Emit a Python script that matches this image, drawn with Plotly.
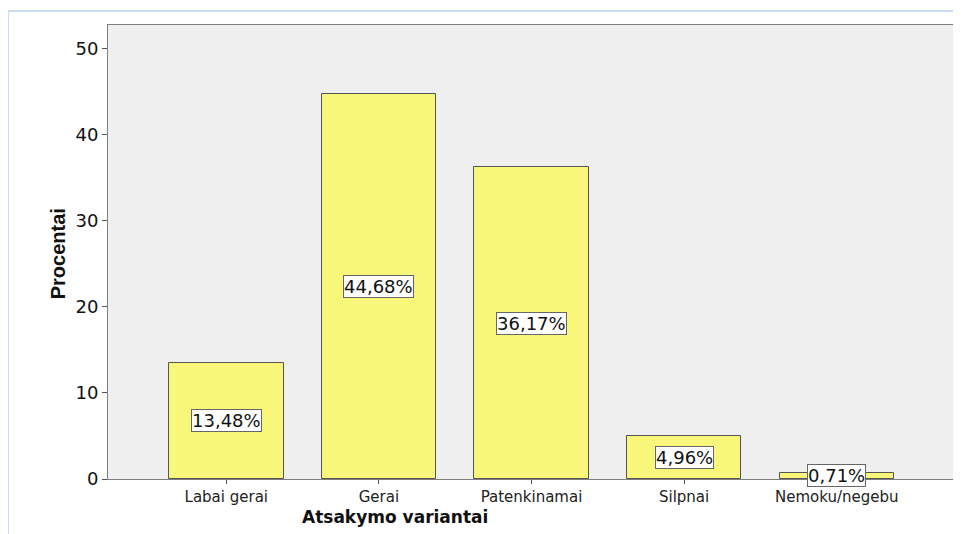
import plotly.graph_objects as go

categories = ["Labai gerai", "Gerai", "Patenkinamai", "Silpnai", "Nemoku/negebu"]
values = [13.48, 44.68, 36.17, 4.96, 0.71]
label_texts = ["13,48%", "44,68%", "36,17%", "4,96%", "0,71%"]
y_ticks = [0, 10, 20, 30, 40, 50]

FONT = "DejaVu Sans, Liberation Sans, Arial"

fig = go.Figure()
fig.add_trace(go.Bar(
    x=list(range(len(categories))), y=values, width=0.75,
    marker=dict(color="#F9F77A", line=dict(color="#555555", width=1)),
    hoverinfo="skip",
))

for i, (v, t) in enumerate(zip(values, label_texts)):
    fig.add_annotation(
        x=i, y=v / 2, text=t, showarrow=False,
        font=dict(family=FONT, size=18, color="#111111"),
        bgcolor="white", bordercolor="#666666", borderwidth=1, borderpad=0,
    )

fig.add_annotation(
    x=0.339, y=-0.083, xref="paper", yref="paper", text="<b>Atsakymo variantai</b>",
    showarrow=False, xanchor="center", yanchor="middle",
    font=dict(family=FONT, size=17, color="#111111"),
)
fig.add_annotation(
    x=-0.059, y=0.495, xref="paper", yref="paper", text="<b>Procentai</b>",
    showarrow=False, textangle=-90, xanchor="center", yanchor="middle",
    font=dict(family="Liberation Sans, Arial", size=20, color="#111111"),
)

# light blue outer frame
fig.add_shape(type="line", xref="paper", yref="paper", x0=-0.118, x1=-0.118, y0=1.031, y1=-0.13,
              line=dict(color="#C9DCF2", width=2))
fig.add_shape(type="line", xref="paper", yref="paper", x0=-0.118, x1=1.02, y0=1.031, y1=1.031,
              line=dict(color="#C9DCF2", width=2))

fig.update_xaxes(
    range=[-0.775, 4.775], tickvals=list(range(len(categories))), ticktext=categories,
    showline=True, linecolor="#7F7F7F", linewidth=1, mirror=True,
    ticks="outside", ticklen=4, tickcolor="#555555", showgrid=False, zeroline=False,
    tickfont=dict(family=FONT, size=15, color="#222222"),
)
fig.update_yaxes(
    range=[0, 52.7], tickvals=y_ticks,
    showline=True, linecolor="#7F7F7F", linewidth=1, mirror=True,
    ticks="outside", ticklen=5, tickcolor="#555555", showgrid=False, zeroline=False,
    tickfont=dict(family=FONT, size=18, color="#111111"),
)
fig.update_layout(
    width=953, height=526,
    margin=dict(l=100, r=6, t=17, b=55),
    plot_bgcolor="#EFEFEF", paper_bgcolor="white",
    showlegend=False, bargap=0,
)
fig.write_html("out.html")
